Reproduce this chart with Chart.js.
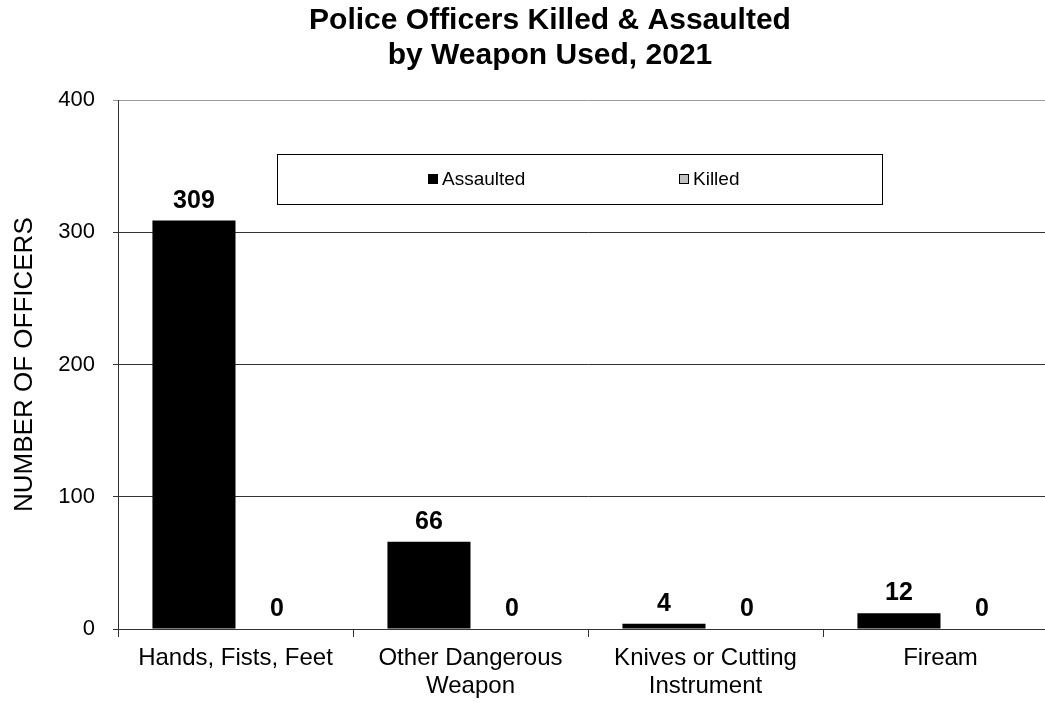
<!DOCTYPE html>
<html>
<head>
<meta charset="utf-8">
<script src="https://cdn.jsdelivr.net/npm/chart.js@4/dist/chart.umd.min.js"></script>
<style>
  html, body { margin: 0; padding: 0; overflow: hidden; background: #fff; }
  #wrap { position: relative; width: 1100px; height: 702px; }
</style>
</head>
<body>
<div id="wrap"><canvas id="chart"></canvas></div>
<script>
const categories = [['Hands, Fists, Feet'], ['Other Dangerous', 'Weapon'], ['Knives or Cutting', 'Instrument'], ['Fiream']];
const assaulted = [309, 66, 4, 12];
const killed = [0, 0, 0, 0];
const yTicks = [0, 100, 200, 300, 400];

const FONT = '"Liberation Sans", Arial, sans-serif';

// value labels above each bar (zeros too)
const valueLabels = {
  id: 'valueLabels',
  afterDatasetsDraw(chart) {
    const ctx = chart.ctx;
    ctx.save();
    ctx.font = 'bold 25px ' + FONT;
    ctx.fillStyle = '#000';
    ctx.textAlign = 'center';
    ctx.textBaseline = 'alphabetic';
    chart.data.datasets.forEach((ds, i) => {
      chart.getDatasetMeta(i).data.forEach((bar, j) => {
        ctx.fillText(String(ds.data[j]), bar.x, bar.y - 13);
      });
    });
    ctx.restore();
  }
};

// boxed legend sitting inside the plot
const boxLegend = {
  id: 'boxLegend',
  afterDraw(chart) {
    const ctx = chart.ctx;
    const x0 = 277, y0 = 154, w = 605, h = 50;
    ctx.save();
    ctx.fillStyle = '#fff';
    ctx.fillRect(x0, y0, w, h);
    ctx.strokeStyle = '#000';
    ctx.lineWidth = 1;
    ctx.strokeRect(x0 + 0.5, y0 + 0.5, w, h);
    ctx.font = '19px ' + FONT;
    ctx.textBaseline = 'middle';
    ctx.textAlign = 'left';
    const pos = [428, 679];
    chart.data.datasets.forEach((ds, i) => {
      const x = pos[i], y = y0 + h / 2;
      ctx.fillStyle = ds.backgroundColor;
      ctx.fillRect(x, y - 5, 10, 10);
      ctx.strokeStyle = '#000';
      ctx.strokeRect(x + 0.5, y - 4.5, 9, 9);
      ctx.fillStyle = '#000';
      ctx.fillText(ds.label, x + 14, y + 1);
    });
    ctx.restore();
  }
};

new Chart(document.getElementById('chart'), {
  type: 'bar',
  data: {
    labels: categories,
    datasets: [
      { label: 'Assaulted', data: assaulted, backgroundColor: '#000000' },
      { label: 'Killed', data: killed, backgroundColor: '#c0c0c0', borderColor: '#000', borderWidth: 1 }
    ]
  },
  options: {
    responsive: true,
    maintainAspectRatio: false,
    animation: false,
    datasets: { bar: { categoryPercentage: 0.707, barPercentage: 1.0 } },
    layout: { padding: 0 },
    plugins: {
      legend: { display: false },
      tooltip: { enabled: false },
      title: {
        display: true,
        text: ['Police Officers Killed & Assaulted', 'by Weapon Used, 2021'],
        color: '#000',
        font: { family: FONT, size: 30, weight: 'bold', lineHeight: 1.17 },
        padding: { top: 3, bottom: 27 }
      }
    },
    scales: {
      x: {
        grid: { display: true, drawOnChartArea: false, drawTicks: true, tickLength: 8, color: '#333', offset: true },
        border: { display: true, color: '#333', width: 1 },
        ticks: { color: '#000', font: { family: FONT, size: 24, lineHeight: 1.17 }, padding: 7, maxRotation: 0, autoSkip: false },
        afterFit(scale) { scale.height = 73; }
      },
      y: {
        min: 0,
        max: 400,
        afterBuildTicks(scale) { scale.ticks = yTicks.map(v => ({ value: v })); },
        grid: {
          color: ctx => ctx.tick && ctx.tick.value === 400 ? '#999' : '#333',
          tickLength: 5,
          drawTicks: true
        },
        border: { display: true, color: '#333', width: 1 },
        ticks: { color: '#000', font: { family: FONT, size: 22 }, padding: 18 },
        title: {
          display: true,
          text: 'NUMBER OF OFFICERS',
          color: '#000',
          font: { family: FONT, size: 26, lineHeight: 1.2 },
          padding: { top: 9, bottom: 0 }
        },
        afterFit(scale) { scale.width = 118; }
      },
      // empty right-hand axis that keeps the plot running past the window edge
      yRight: {
        type: 'linear',
        position: 'right',
        display: true,
        grid: { display: false },
        border: { display: false },
        ticks: { display: false },
        afterFit(scale) { scale.width = 42; }
      }
    }
  },
  plugins: [valueLabels, boxLegend]
});
</script>
</body>
</html>
